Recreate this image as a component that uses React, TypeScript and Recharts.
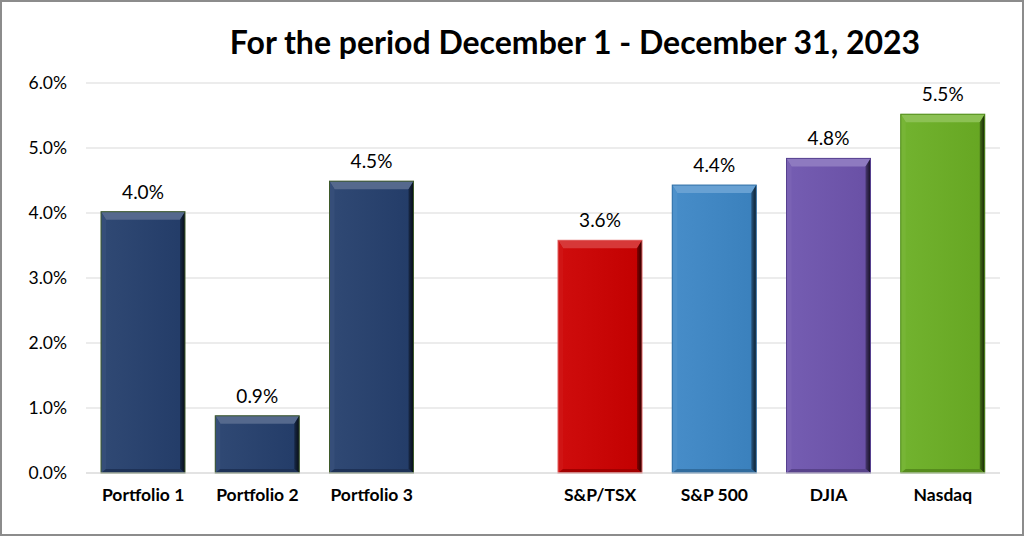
import React from "react";
import { BarChart, Bar, XAxis, YAxis, CartesianGrid, Cell, LabelList } from "recharts";

const categories = ["Portfolio 1", "Portfolio 2", "Portfolio 3", "", "S&P/TSX", "S&P 500", "DJIA", "Nasdaq"];
const returns = [4.02, 0.88, 4.49, null, 3.58, 4.43, 4.84, 5.52];
const barColors = ["#253F6D", "#253F6D", "#253F6D", "#ffffff", "#CC0000", "#3D87C6", "#6E54AE", "#6BAF24"];
const barOutlines = ["#3E5A2A", "#3E5A2A", "#3E5A2A", "none", "#E06060", "#2F6FA6", "#56408F", "#4E8A18"];
const yTicks = [0, 1, 2, 3, 4, 5, 6];

const data = categories.map((name, i) => ({ name, value: returns[i], color: barColors[i], outline: barOutlines[i] }));

const font = "Lato, 'Open Sans', sans-serif";

const mix = (hex: string, target: number, amt: number) => {
  const n = parseInt(hex.slice(1), 16);
  const ch = [(n >> 16) & 255, (n >> 8) & 255, n & 255].map((c) => Math.round(c + (target - c) * amt));
  return `rgb(${ch[0]},${ch[1]},${ch[2]})`;
};

const BevelBar = (props: any) => {
  const { x, y, width, height, payload } = props;
  if (!height || height <= 0) return null;
  const c = payload.color;
  const b = Math.min(8, height / 2);
  const s = 5;
  const id = `g-${Math.round(x)}`;
  return (
    <g>
      <defs>
        <linearGradient id={id} x1="0" y1="0" x2="1" y2="0">
          <stop offset="0%" stopColor={mix(c, 255, 0.05)} />
          <stop offset="100%" stopColor={mix(c, 0, 0.05)} />
        </linearGradient>
        <linearGradient id={id + "r"} x1="0" y1="0" x2="1" y2="0">
          <stop offset="0%" stopColor={mix(c, 0, 0.35)} />
          <stop offset="100%" stopColor={mix(c, 0, 0.8)} />
        </linearGradient>
      </defs>
      <rect x={x} y={y} width={width} height={height} fill={`url(#${id})`} />
      {/* top bevel */}
      <polygon points={`${x},${y} ${x + width},${y} ${x + width - s},${y + b} ${x + s},${y + b}`} fill={mix(c, 255, 0.22)} />
      {/* left bevel */}
      <polygon points={`${x},${y} ${x + s},${y + b} ${x + s},${y + height - b / 2} ${x},${y + height}`} fill={mix(c, 255, 0.08)} />
      {/* right bevel */}
      <polygon points={`${x + width},${y} ${x + width},${y + height} ${x + width - s},${y + height - b / 2} ${x + width - s},${y + b}`} fill={`url(#${id}r)`} />
      {/* bottom bevel */}
      <polygon points={`${x},${y + height} ${x + s},${y + height - b / 2} ${x + width - s},${y + height - b / 2} ${x + width},${y + height}`} fill={mix(c, 0, 0.2)} />
      <rect x={x} y={y} width={width} height={height} fill="none" stroke={payload.outline} strokeWidth={1} />
    </g>
  );
};

const App = () => {
  return (
    <div
      style={{
        position: "absolute",
        left: 0,
        top: 0,
        width: 1024,
        height: 536,
        boxSizing: "border-box",
        border: "2px solid #8c8c8c",
        background: "#fff",
        fontFamily: font,
      }}
    >
      <div
        style={{
          position: "absolute",
          left: 0,
          width: 1146,
          top: 20,
          textAlign: "center",
          fontSize: 32,
          fontWeight: 700,
          color: "#000",
        }}
      >
        For the period December 1 - December 31, 2023
      </div>
      <div style={{ position: "absolute", left: -2, top: -2 }}>
        <BarChart width={1024} height={536} data={data} margin={{ top: 83, right: 24, bottom: 23, left: 0 }}>
          <CartesianGrid vertical={false} stroke="#d9d9d9" strokeWidth={1.2} />
          <XAxis
            dataKey="name"
            axisLine={{ stroke: "#d9d9d9", strokeWidth: 1.2 }}
            tickLine={false}
            tickSize={0}
            tickMargin={16}
            height={40}
            interval={0}
            tick={{ fill: "#000", fontSize: 17.5, fontWeight: 700, fontFamily: font }}
          />
          <YAxis
            domain={[0, 6]}
            ticks={yTicks}
            width={86}
            axisLine={false}
            tickLine={false}
            tickSize={0}
            tickMargin={19}
            tickFormatter={(v: number) => `${v.toFixed(1)}%`}
            tick={{ fill: "#000", fontSize: 17.5, fontFamily: font }}
          />
          <Bar dataKey="value" barSize={84} shape={<BevelBar />} isAnimationActive={false}>
            {data.map((d, i) => (
              <Cell key={i} fill={d.color} />
            ))}
            <LabelList
              dataKey="value"
              position="top"
              offset={13}
              formatter={(v: any) => (v == null ? "" : `${Number(v).toFixed(1)}%`)}
              style={{ fill: "#000", fontSize: 19, fontFamily: font }}
            />
          </Bar>
        </BarChart>
      </div>
    </div>
  );
};

export default App;
